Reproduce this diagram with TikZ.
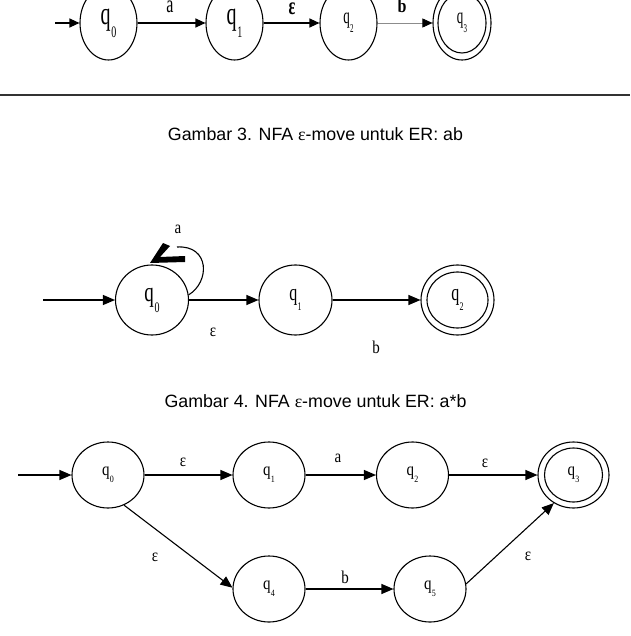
\documentclass[tikz,border=0pt]{standalone}
\usepackage{fontspec}
\usepackage{graphicx}
\setmainfont{Liberation Serif}
\newfontfamily\capfont{Liberation Sans}
\usetikzlibrary{arrows.meta,shapes.geometric}
\newcommand\vst[3]{\scalebox{1}[#1]{\fontsize{#2}{#2}\selectfont #3}}
% #1 stretch, #2 size, #3 subscript size, #4 subscript
\newcommand\qlab[4]{\scalebox{1}[#1]{\fontsize{#2}{#2}\selectfont q\kern0.03em\raisebox{-0.4em}{\fontsize{#3}{#3}\selectfont #4}}}
\tikzset{
  stA/.style={draw, ellipse, line width=1.1pt, inner sep=0pt, minimum width=57pt, minimum height=74pt},
  stM/.style={draw, ellipse, line width=1.1pt, inner sep=0pt, minimum width=73pt, minimum height=70pt},
  stB/.style={draw, ellipse, line width=1.1pt, inner sep=0pt, minimum width=72pt, minimum height=66pt},
  edgeA/.style={line width=1.1pt, -{Triangle[length=10pt,width=9pt]}},
  edgeM/.style={line width=1.1pt, -{Triangle[length=12pt,width=10pt]}},
  lbl/.style={inner sep=0pt},
  toplbl/.style={inner sep=0pt, anchor=base},
  captxt/.style={inner sep=0pt, anchor=base, font=\capfont\fontsize{17.8}{20}\selectfont}
}
\begin{document}
\begin{tikzpicture}[x=1pt,y=-1pt]
\useasboundingbox (0,0) rectangle (630,636);
\clip (0,0) rectangle (630,636);
\fill[white] (0,0) rectangle (630,636);

% ---------- top diagram ----------
\coordinate (s0) at (55,23);
\node[stA] (a0) at (108.5,23) {\qlab{1.6}{20}{10}{0}};
\node[stA] (a1) at (234.5,23) {\qlab{1.6}{20}{10}{1}};
\node[stA] (a2) at (348.5,23) {\qlab{1.7}{13}{7}{2}};
\node[stA, minimum width=58pt] (a3) at (462,23) {\qlab{1.7}{13}{7}{3}};
\draw[line width=1.1pt] (a3.center) ellipse (24pt and 30pt);
\draw[edgeA] (s0) -- (a0);
\draw[edgeA] (a0) -- (a1);
\draw[edgeA] (a1) -- (a2);
\draw[line width=0.6pt, black!45, -{Triangle[length=10pt,width=9pt,color=black]}] (a2) -- (a3);
\node[toplbl] (la) at (170,13) {\vst{1.55}{16}{a}};
\node[toplbl] (le) at (292,14.5) {\vst{1.55}{16}{\bfseries ε}};
\node[toplbl] (lb) at (402,13) {\vst{1.2}{16}{\bfseries b}};

\draw[line width=2pt, black!80] (0,95) -- (630,95);

\node[captxt] (cap3) at (315.5,141) {Gambar 3. NFA {\rmfamily ε}-move untuk ER: ab};

% ---------- middle diagram ----------
\coordinate (s1) at (43,300);
\node[stM] (m0) at (152,300) {\qlab{1.45}{19}{10}{0}};
\node[stM] (m1) at (295.5,300) {\qlab{1.45}{16}{8}{1}};
\node[stM] (m2) at (457.5,300) {\qlab{1.45}{16}{8}{2}};
\draw[line width=1.1pt] (m2.center) ellipse (30.5pt and 28pt);
\draw[edgeM] (s1) -- (m0);
\draw[edgeM] (m0) -- (m1);
\draw[edgeM] (m1) -- (m2);
\coordinate (lp) at (177,247);
\draw[line width=1.1pt] (m0.8) .. controls (210,282) and (210,245) .. (lp);
\fill[black] (163,243) -- (170,246) -- (160,257) -- (185,256) -- (185,262) -- (150,263) -- cycle;
\node[lbl] (ma) at (178,229) {\vst{1.2}{15}{a}};
\node[lbl] (me) at (213,332) {\vst{1.2}{15}{ε}};
\node[lbl] (mb) at (376,347) {\vst{1.2}{15}{b}};

\node[captxt] (cap4) at (315.5,407) {Gambar 4. NFA {\rmfamily ε}-move untuk ER: a*b};

% ---------- bottom diagram ----------
\coordinate (s2) at (18,475);
\node[stB] (b0) at (108,475) {\qlab{1.2}{15}{8}{0}};
\node[stB] (b1) at (269,475) {\qlab{1.2}{15}{8}{1}};
\node[stB] (b2) at (412.5,475) {\qlab{1.2}{15}{8}{2}};
\node[stB, minimum width=71pt] (b3) at (573.5,475) {\qlab{1.2}{15}{8}{3}};
\draw[line width=1.1pt] (b3.center) ellipse (29pt and 27pt);
\node[stB] (b4) at (269,589) {\qlab{1.2}{15}{8}{4}};
\node[stB] (b5) at (430,589) {\qlab{1.2}{15}{8}{5}};
\draw[edgeM] (s2) -- (b0);
\draw[edgeM] (b0) -- (b1);
\draw[edgeM] (b1) -- (b2);
\draw[edgeM] (b2) -- (b3);
\draw[edgeM] (b0.-62) -- (b4.178);
\draw[edgeM] (b4) -- (b5);
\draw[edgeM] (b5.8) -- (b3.-125);
\node[lbl] (be1) at (183,462) {\vst{1.2}{15}{ε}};
\node[lbl] (ba) at (338,458) {\vst{1.2}{15}{a}};
\node[lbl] (be2) at (485,463) {\vst{1.2}{15}{ε}};
\node[lbl] (be3) at (155,557) {\vst{1.2}{15}{ε}};
\node[lbl] (bb) at (345,577) {\vst{1.2}{15}{b}};
\node[lbl] (be4) at (528,556) {\vst{1.2}{15}{ε}};
\end{tikzpicture}
\end{document}
